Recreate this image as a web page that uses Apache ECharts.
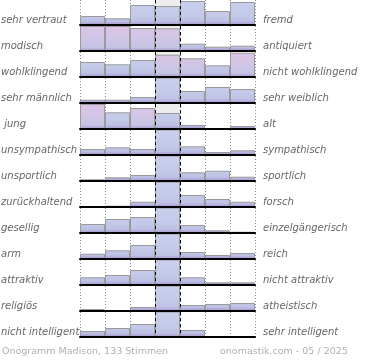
<!DOCTYPE html>
<html><head><meta charset="utf-8">
<script src="https://cdn.jsdelivr.net/npm/echarts@6/dist/echarts.min.js"></script>
<style>html,body{margin:0;padding:0;background:#fff}#c{width:370px;height:360px}</style>
</head><body><div id="c"></div>
<script>
// ---- data ----
const leftLabels = ['sehr vertraut','modisch','wohlklingend','sehr männlich',' jung','unsympathisch','unsportlich','zurückhaltend','gesellig','arm','attraktiv','religiös','nicht intelligent'];
const rightLabels = ['fremd','antiquiert','nicht wohlklingend','sehr weiblich','alt','sympathisch','sportlich','forsch','einzelgängerisch','reich','nicht attraktiv','atheistisch','sehr intelligent'];
const categories = ['1','2','3','4','5','6','7'];
const row1 = [9, 6.7, 20, 19, 24, 14, 23];
const row2 = [25, 25, 23, 22.7, 7.3, 4.3, 5.3];
const row3 = [15, 12.7, 17, 22.3, 18.7, 11.7, 24.3];
const row4 = [3.3, 3.3, 6, 30, 12, 16, 14];
const row5 = [25, 16.7, 21, 16, 4, 0, 3];
const row6 = [6, 7.7, 6, 30, 8.7, 3, 4.7];
const row7 = [1.7, 3.7, 6, 30, 8.7, 10.3, 4.3];
const row8 = [0, 1.3, 5.3, 30, 12, 8, 5.3];
const row9 = [9, 14, 16, 30, 8, 2.7, 1.3];
const row10 = [5.3, 8.7, 14, 30, 7, 4, 6];
const row11 = [7.7, 10, 15, 30, 7.7, 2.7, 2.7];
const row12 = [2, 0, 4, 30, 6, 7, 8];
const row13 = [6, 9, 13, 30, 7, 0, 0];
const rows = [row1,row2,row3,row4,row5,row6,row7,row8,row9,row10,row11,row12,row13];
const footerLeft = 'Onogramm Madison, 133 Stimmen';
const footerRight = 'onomastik.com - 05 / 2025';

// ---- style (tint per bar) ----
const pinkTint = [
  [0,0,0,0,0,0,0],[1,1,1,1,0,0,0],[0,0,0,1,1,0,1],[0,0,0,0,0,0,0],[1,0,1,0,0,0,0],
  [0,0,0,0,0,0,0],[0,0,0,0,0,0,0],[0,0,0,0,0,0,0],[0,0,0,0,0,0,0],[0,0,0,0,0,0,0],
  [0,0,0,0,0,0,0],[0,0,0,0,0,0,0],[0,0,0,0,0,0,0]];

const ROW_H = 26, BAND = 25, LEFT = 80, WIDTH = 175, YMAX = 25;
const FONT = '"DejaVu Sans", sans-serif';

function grad(top, pink) {
  const stops = pink ? [
    {offset:0, color:'#ddc4e4'},{offset:0.45, color:'#d2c5e6'},{offset:0.85, color:'#c4c4e5'},
    {offset:0.93, color:'#b5acd8'},{offset:1, color:'#a596cc'}] : [
    {offset:0, color:'#c9d0ec'},{offset:0.6, color:'#c3c9e8'},{offset:0.85, color:'#bdc1e4'},
    {offset:0.93, color:'#b0aad8'},{offset:1, color:'#a596cc'}];
  return {type:'linear', x:0, y:top, x2:0, y2:top+BAND, colorStops:stops, global:true};
}

const grids=[], xAxes=[], yAxes=[], series=[], graphics=[];
const T='rgba(0,0,0,0)';
rows.forEach((vals, i) => {
  const top = i*ROW_H;
  grids.push({left:LEFT, top:top, width:WIDTH, height:BAND, containLabel:false});
  xAxes.push({gridIndex:i, type:'category', data:categories, boundaryGap:true, position:'top', z:0,
    axisLine:{show:false}, axisTick:{show:false}, axisLabel:{show:false},
    splitLine:{show:true, lineStyle:{color:'#8a8a8a', type:[1,2], width:1}},
    splitArea:{show:true, areaStyle:{color:[T,T,T,'#ededed',T,T,T]}}});
  xAxes.push({gridIndex:i, type:'category', data:categories, boundaryGap:true, position:'bottom', z:5,
    axisLine:{show:true, lineStyle:{color:'#000', width:2}}, axisTick:{show:false}, axisLabel:{show:false},
    splitLine:{show:true, lineStyle:{color:[T,T,T,'#000','#000',T,T,T], type:[3,3], width:1}}});
  yAxes.push({gridIndex:i, type:'value', min:0, max:YMAX, show:false});
  series.push({type:'bar', xAxisIndex:2*i, yAxisIndex:i, barWidth:'100%', barCategoryGap:'0%', clip:true,
    silent:true, animation:false,
    itemStyle:{borderColor:'#9a9a9a', borderWidth:1},
    data: vals.map((v,j)=>({value:v, itemStyle:{color:grad(top, pinkTint[i][j])}}))});
  const cy = top + 20;
  graphics.push({type:'text', x:1, y:cy, silent:true,
    style:{text:leftLabels[i], font:'italic 10px '+FONT, fill:'#666', verticalAlign:'middle', align:'left'}});
  graphics.push({type:'text', x:263, y:cy, silent:true,
    style:{text:rightLabels[i], font:'italic 10px '+FONT, fill:'#666', verticalAlign:'middle', align:'left'}});
});
graphics.push({type:'text', x:2, y:352, silent:true,
  style:{text:footerLeft, font:'9.5px '+FONT, fill:'#b0b0b0', verticalAlign:'middle', align:'left'}});
graphics.push({type:'text', x:220, y:352, silent:true,
  style:{text:footerRight, font:'9.5px '+FONT, fill:'#b0b0b0', verticalAlign:'middle', align:'left'}});

const chart = echarts.init(document.getElementById('c'), null, {renderer:'canvas'});
chart.setOption({animation:false, grid:grids, xAxis:xAxes, yAxis:yAxes, series:series, graphic:graphics});
</script></body></html>
